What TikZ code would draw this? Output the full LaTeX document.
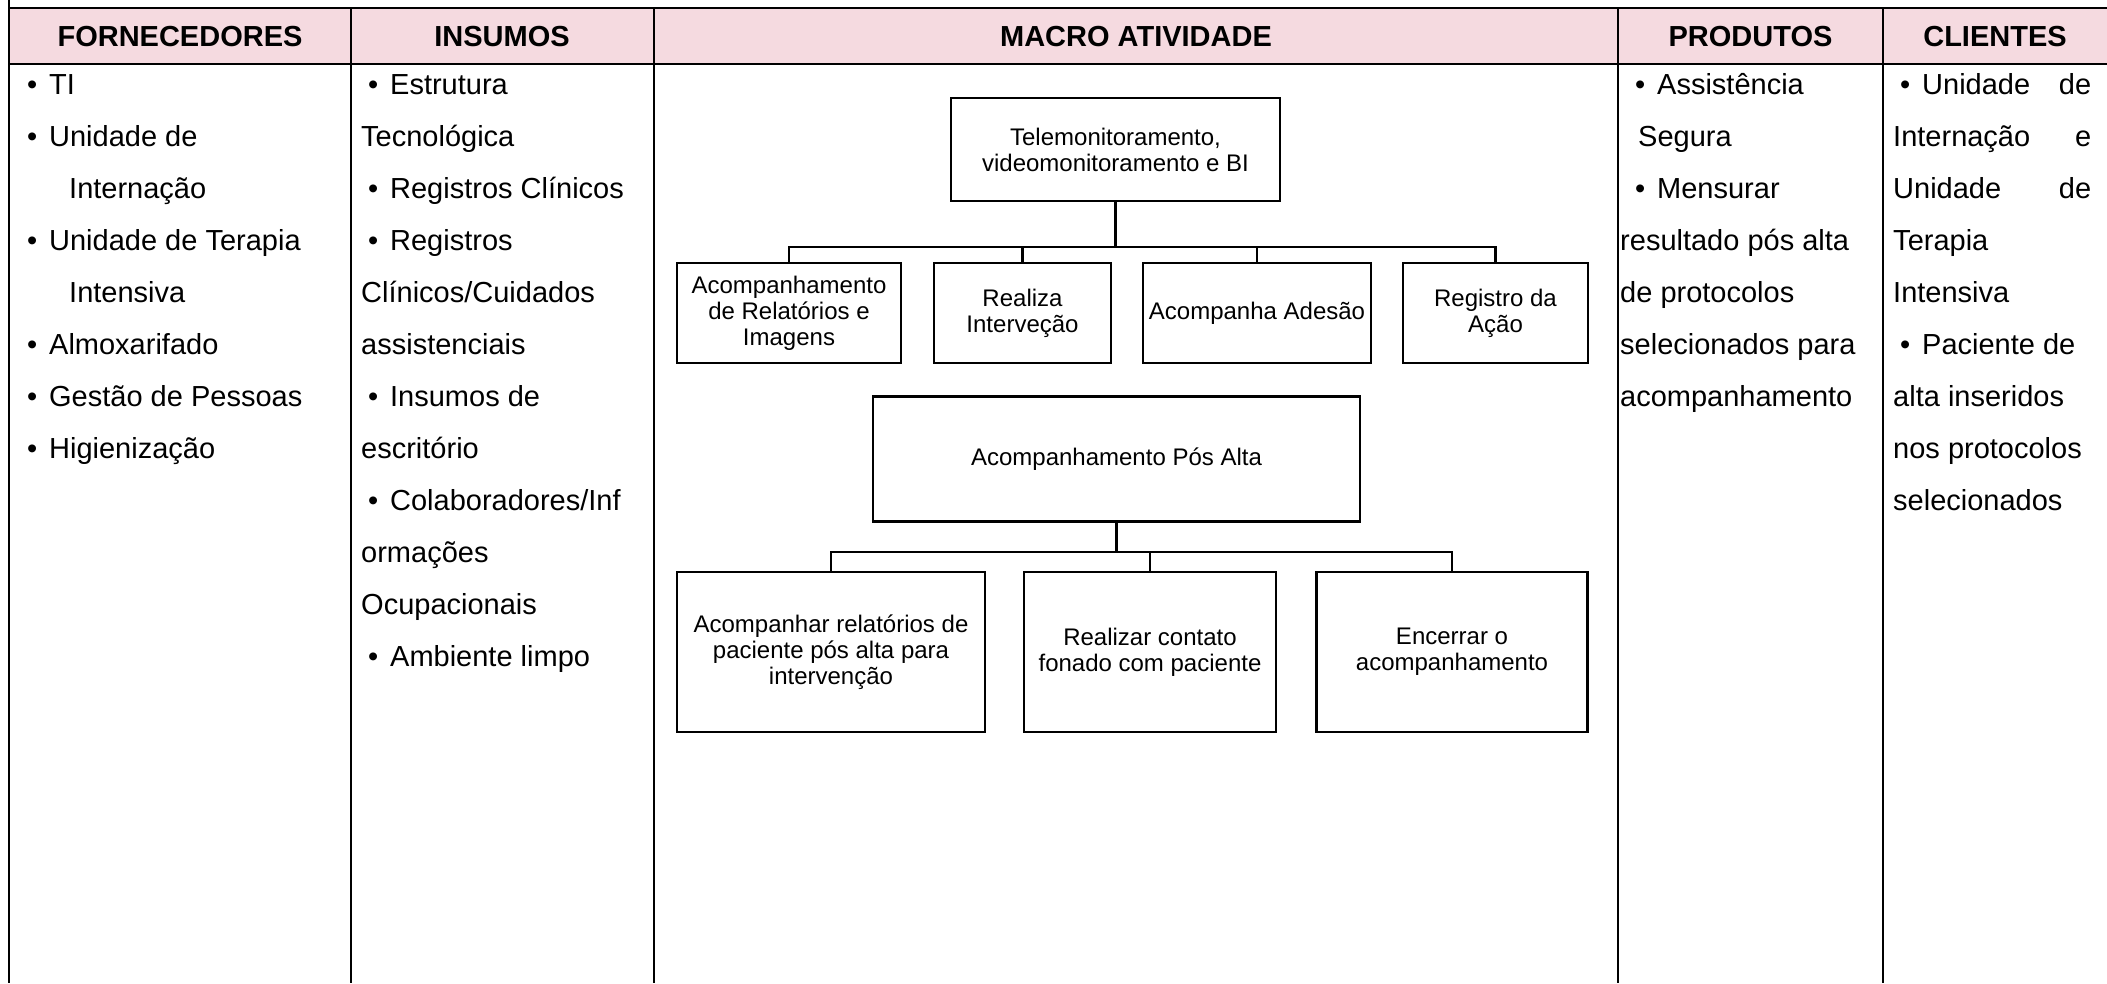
\documentclass[tikz,border=0pt]{standalone}
\usepackage{fontspec}
\setmainfont{Liberation Sans}
\definecolor{hdr}{RGB}{245,218,224}
\newcommand{\bul}{\makebox[22pt][l]{•}}
\begin{document}
\begin{tikzpicture}[x=1pt,y=-1pt,
  tline/.style={line width=2pt},
  box/.style={draw, line width=2.4pt, fill=white, align=center, inner sep=2pt, font=\fontsize{24}{26}\selectfont},
  conn/.style={line width=2.4pt},
  hd/.style={font=\fontsize{29}{34}\selectfont\bfseries, inner sep=0pt},
  tx/.style={font=\fontsize{29}{34}\selectfont, inner sep=0pt, anchor=mid west}]
\useasboundingbox (0,0) rectangle (2107,983);
% table
\fill[hdr] (9,8) rectangle (2107,64);
\draw[tline] (9,0) -- (9,983);
\draw[tline] (9,8) -- (2107,8);
\draw[tline] (9,64) -- (2107,64);
\foreach \xx in {350.5,654,1618,1883} \draw[tline] (\xx,8) -- (\xx,983);
% headers
\node[hd] (h1) at (180,37) {FORNECEDORES};
\node[hd] (h2) at (502,37) {INSUMOS};
\node[hd] (h3) at (1136,37) {MACRO ATIVIDADE};
\node[hd] (h4) at (1750.5,37) {PRODUTOS};
\node[hd] (h5) at (1995,37) {CLIENTES};
% column 1
\node[tx] (f1) at (27,92) {\bul TI};
\node[tx] (f2) at (27,144) {\bul Unidade de};
\node[tx] (f3) at (69,196) {Internação};
\node[tx] (f4) at (27,248) {\bul Unidade de Terapia};
\node[tx] (f5) at (69,300) {Intensiva};
\node[tx] (f6) at (27,352) {\bul Almoxarifado};
\node[tx] (f7) at (27,404) {\bul Gestão de Pessoas};
\node[tx] (f8) at (27,456) {\bul Higienização};
% column 2
\node[tx] (i1) at (368,92) {\bul Estrutura};
\node[tx] (i2) at (361,144) {Tecnológica};
\node[tx] (i3) at (368,196) {\bul Registros Clínicos};
\node[tx] (i4) at (368,248) {\bul Registros};
\node[tx] (i5) at (361,300) {Clínicos/Cuidados};
\node[tx] (i6) at (361,352) {assistenciais};
\node[tx] (i7) at (368,404) {\bul Insumos de};
\node[tx] (i8) at (361,456) {escritório};
\node[tx] (i9) at (368,508) {\bul Colaboradores/Inf};
\node[tx] (i10) at (361,560) {ormações};
\node[tx] (i11) at (361,612) {Ocupacionais};
\node[tx] (i12) at (368,664) {\bul Ambiente limpo};
% column 4
\node[tx] (p1) at (1635,92) {\bul Assistência};
\node[tx] (p2) at (1638,144) {Segura};
\node[tx] (p3) at (1635,196) {\bul Mensurar};
\node[tx] (p4) at (1620,248) {resultado pós alta};
\node[tx] (p5) at (1620,300) {de protocolos};
\node[tx] (p6) at (1620,352) {selecionados para};
\node[tx] (p7) at (1620,404) {acompanhamento};
% column 5
\node[tx] (c1) at (1900,92) {\makebox[191pt][l]{\bul Unidade\hfill de}};
\node[tx] (c2) at (1893,144) {\makebox[198pt][l]{Internação\hfill e}};
\node[tx] (c3) at (1893,196) {\makebox[198pt][l]{Unidade\hfill de}};
\node[tx] (c4) at (1893,248) {Terapia};
\node[tx] (c5) at (1893,300) {Intensiva};
\node[tx] (c6) at (1900,352) {\bul Paciente de};
\node[tx] (c7) at (1893,404) {alta inseridos};
\node[tx] (c8) at (1893,456) {nos protocolos};
\node[tx] (c9) at (1893,508) {selecionados};
% diagram
\node[box, minimum width=329pt, minimum height=103pt] (t) at (1115.5,149.5) {Telemonitoramento,\\videomonitoramento e BI};
\node[box, minimum width=224pt, minimum height=100pt] (a) at (789,313) {Acompanhamento\\de Relatórios e\\Imagens};
\node[box, minimum width=177pt, minimum height=100pt] (b) at (1022.5,313) {Realiza\\Interveção};
\node[box, minimum width=228pt, minimum height=100pt] (c) at (1257,313) {Acompanha Adesão};
\node[box, minimum width=185pt, minimum height=100pt] (d) at (1495.5,313) {Registro da\\Ação};
\coordinate (bus1) at (1115.5,247);
\draw[conn] (t.south) -- (bus1);
\foreach \n in {a,b,c,d} \draw[conn] (\n.north) |- (bus1);
\node[box, minimum width=487pt, minimum height=125pt] (p) at (1116.5,459) {Acompanhamento Pós Alta};
\node[box, minimum width=308pt, minimum height=160pt] (e) at (831,652) {Acompanhar relatórios de\\paciente pós alta para\\intervenção};
\node[box, minimum width=252pt, minimum height=160pt] (f) at (1150,652) {Realizar contato\\fonado com paciente};
\node[box, minimum width=271pt, minimum height=160pt] (g) at (1452,652) {Encerrar o\\acompanhamento};
\coordinate (bus2) at (1116.5,552);
\draw[conn] (p.south) -- (bus2);
\foreach \n in {e,f,g} \draw[conn] (\n.north) |- (bus2);
\end{tikzpicture}
\end{document}
